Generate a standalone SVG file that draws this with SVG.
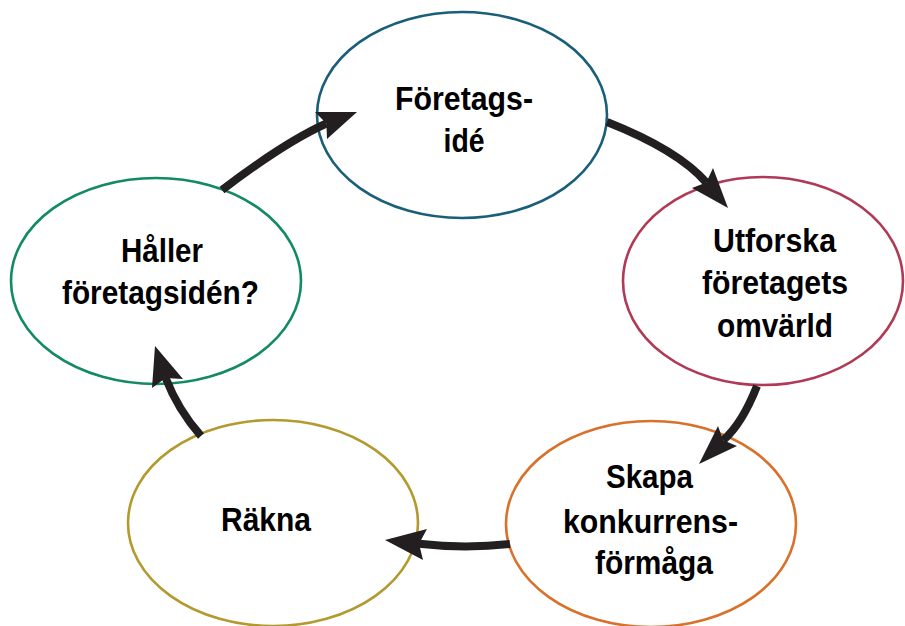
<svg xmlns="http://www.w3.org/2000/svg" width="905" height="626" viewBox="0 0 905 626">
<style>
.node{fill:#ffffff;stroke-width:2.6}
.lbl{font-family:"Liberation Sans",Arial,sans-serif;font-weight:bold;font-size:34px;fill:#000;text-anchor:middle}
.arc{fill:none;stroke:#231f20;stroke-width:8}
.head{fill:#231f20;stroke:none}
</style>
<rect width="905" height="626" fill="#ffffff"/>
<g id="node-foretagside">
<ellipse class="node" cx="462" cy="115" rx="145" ry="103" stroke="#1a5f7a"/>
<text class="lbl" x="464" y="110" textLength="138" lengthAdjust="spacingAndGlyphs">Företags-</text>
<text class="lbl" x="464" y="152" textLength="41" lengthAdjust="spacingAndGlyphs">idé</text>
</g>
<g id="node-utforska">
<ellipse class="node" cx="763" cy="281" rx="140" ry="104" stroke="#b03a55"/>
<text class="lbl" x="774.5" y="252" textLength="123" lengthAdjust="spacingAndGlyphs">Utforska</text>
<text class="lbl" x="775" y="294" textLength="146" lengthAdjust="spacingAndGlyphs">företagets</text>
<text class="lbl" x="775" y="337" textLength="116" lengthAdjust="spacingAndGlyphs">omvärld</text>
</g>
<g id="node-skapa">
<ellipse class="node" cx="651" cy="524" rx="145" ry="103" stroke="#d9712a"/>
<text class="lbl" x="649.5" y="488" textLength="87" lengthAdjust="spacingAndGlyphs">Skapa</text>
<text class="lbl" x="650.5" y="533" textLength="175" lengthAdjust="spacingAndGlyphs">konkurrens-</text>
<text class="lbl" x="654" y="574" textLength="118" lengthAdjust="spacingAndGlyphs">förmåga</text>
</g>
<g id="node-rakna">
<ellipse class="node" cx="273" cy="523" rx="145" ry="103" stroke="#b39a2f"/>
<text class="lbl" x="266" y="531" textLength="90" lengthAdjust="spacingAndGlyphs">Räkna</text>
</g>
<g id="node-haller">
<ellipse class="node" cx="156" cy="281" rx="145" ry="103" stroke="#128a62"/>
<text class="lbl" x="162" y="262" textLength="82" lengthAdjust="spacingAndGlyphs">Håller</text>
<text class="lbl" x="160.5" y="304" textLength="197" lengthAdjust="spacingAndGlyphs">företagsidén?</text>
</g>
<g id="connectors">
<path class="arc" d="M222,190 Q285,142 326.4,123.5"/>
<polygon class="head" points="357,112 315,112 326.4,123.5 327,139"/>
<path class="arc" d="M607,122 Q678,150 706.3,182.5"/>
<polygon class="head" points="728,208 692,188 706.3,182.5 713,168"/>
<path class="arc" d="M757,386 Q742,424 723.2,440.2"/>
<polygon class="head" points="699,464 718,426 723.2,440.2 737,446"/>
<path class="arc" d="M510,544 Q465,549 419,543.8"/>
<polygon class="head" points="385,540 427,529 419,543.8 423,560"/>
<path class="arc" d="M201,436 Q178,410 165.6,377.9"/>
<polygon class="head" points="155,346 183,379 165.6,377.9 152,388"/>
</g>
</svg>
